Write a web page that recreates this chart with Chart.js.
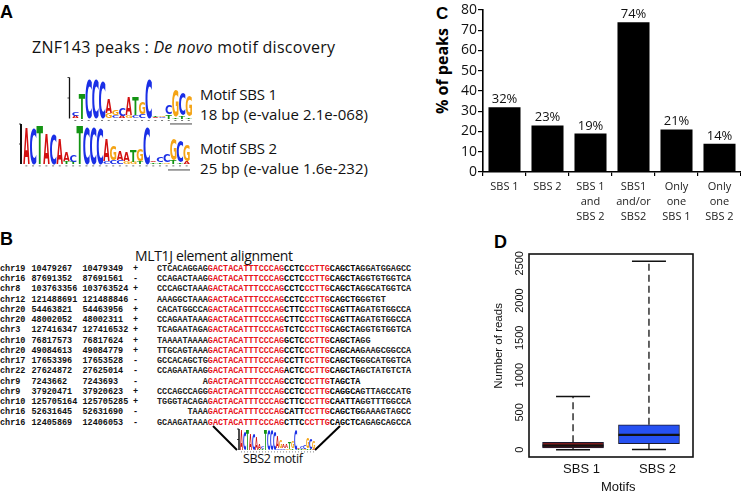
<!DOCTYPE html>
<html><head><meta charset="utf-8">
<script src="https://cdn.jsdelivr.net/npm/chart.js@4.4.1/dist/chart.umd.min.js"></script>
<style>
html,body{margin:0;padding:0;background:#fff;}
#page{position:relative;width:741px;height:495px;overflow:hidden;background:#fff;}
#art{position:absolute;left:0;top:0;}
#logos{position:absolute;left:0;top:0;}
#chartC{position:absolute;left:436px;top:0;}
#chartD{position:absolute;left:480px;top:232px;}
svg text{white-space:pre;}
</style></head>
<body><div id="page">
<svg id="art" width="741" height="495" xmlns="http://www.w3.org/2000/svg"></svg>
<canvas id="logos" width="741" height="495"></canvas>
<canvas id="chartC" width="305" height="232"></canvas>
<canvas id="chartD" width="261" height="263"></canvas>
</div>
<script>
// ---------- Panel C data ----------
const categoriesC = [['SBS 1'], ['SBS 2'], ['SBS 1','and','SBS 2'], ['SBS1','and/or','SBS2'], ['Only','one','SBS 1'], ['Only','one','SBS 2']];
const peakPercent = [32, 23, 19, 74, 21, 14];
const yTicksC = [0, 10, 20, 30, 40, 50, 60, 70, 80];

// ---------- Panel D data ----------
const motifNames = ['SBS 1', 'SBS 2'];
const whiskerLow = [0, 2];
const quartile1 = [25, 80];
const medianReads = [55, 200];
const quartile3 = [100, 335];
const whiskerHigh = [713, 2527];
const yTicksD = [0, 500, 1000, 1500, 2000, 2500];

// ---------- Panel B alignment ----------
const alignChr = ['chr19','chr16','chr8','chr12','chr20','chr20','chr3','chr10','chr20','chr17','chr22','chr9','chr9','chr10','chr16','chr16'];
const alignStart = ['10479267','87691352','103763356','121488691','54463821','48002052','127416347','76817573','49084613','17653396','27624872','7243662','37920471','125705164','52631645','12405869'];
const alignEnd = ['10479349','87691561','103763524','121488846','54463956','48002311','127416532','76817624','49084779','17653528','27625014','7243693','37920623','125705285','52631690','12406053'];
const alignStrand = ['+','-','+','-','+','+','+','+','+','-','-','-','+','+','-','-'];
const alignFlank5 = ['CTCACAGGAG','CCAGACTAAG','CCCAGCTAAA','AAAGGCTAAA','CACATGGCCA','CCAGAATAAA','TCAGAATAGA','TAAAATAAAA','TTGCAGTAAA','GCCACAGCTG','CCAGAATAAG','         A','CCCAGCCAGG','TGGGTACAGA','      TAAA','GCAAGATAAA'];
const alignCore1 = 'GACTACATTTCCCAG';
const alignMid = ['CCTC','CCTC','CCTC','CCTC','CTTC','CTTC','TCTC','GCTC','CCTC','CCTT','ACTC','CCTC','CCTC','CTTC','CATT','CTTC'];
const alignCore2 = 'CCTTG';
const alignMid2 = ['CA','CA','CA','CA','CA','CA','CA','CA','CA','CA','CA','TA','CA','CA','CA','CA'];
const alignFlank3 = ['GCTAGGATGGAGCC','GCTAGGTGTGGTCA','GCTAGGCATGGTCA','GCTGGGTGT','GTTAGATGTGGCCA','GTTAGATGTGGCCA','GCTAGGTGTGGTCA','GCTAGG','GCAAGAAGCGGCCA','GCTGGGCATGGTCA','GCTAGCTATGTCTA','GCTA','GGCAGTTAGCCATG','ATTAGGTTTGGCCA','GCTGGAAAGTAGCC','GCTCAGAGCAGCCA'];

// ---------- Sequence logos (letter, fraction of 2 bits), bottom to top ----------
const logoSBS1 = [
 [['A',0.06],['C',0.1]], [['T',0.62]], [['C',0.95]], [['C',0.95]], [['C',0.93]],
 [['G',0.12],['A',0.35]], [['C',0.08],['G',0.12]], [['A',0.06],['C',0.2]], [['G',0.08],['A',0.45]],
 [['C',0.08],['T',0.45]], [['C',0.1],['G',0.3]], [['C',0.95]], [['A',0.04],['T',0.04]],
 [['C',0.04],['G',0.04]], [['T',0.1],['C',0.22]], [['T',0.05],['G',0.65]], [['T',0.08],['C',0.55]], [['T',0.05],['G',0.5]]
];
const logoSBS2 = [
 [['A',0.92]], [['C',0.92]], [['T',0.95]], [['A',0.75]], [['C',0.75]], [['A',0.62]],
 [['T',0.06],['A',0.25]], [['T',0.06],['C',0.16]], [['T',0.95]], [['C',0.95]], [['C',0.95]], [['C',0.92]],
 [['C',0.08],['A',0.55]], [['C',0.1],['G',0.38]], [['C',0.1],['A',0.22]], [['G',0.08],['A',0.22]],
 [['G',0.06],['T',0.3]], [['T',0.08],['G',0.3]], [['C',0.95]], [['T',0.04],['A',0.04]],
 [['T',0.05],['C',0.15]], [['G',0.05],['C',0.2]], [['T',0.1],['G',0.55]], [['T',0.05],['C',0.55]], [['A',0.06],['G',0.4]]
];
const logoColors = {A:'#d21010', C:'#1a2fe6', G:'#f4a416', T:'#139413'};

// ================= SVG text for panels A and B =================
const NS = 'http://www.w3.org/2000/svg';
const svg = document.getElementById('art');
function el(tag, attrs, text, parent){
  const e = document.createElementNS(NS, tag);
  for (const k in attrs) e.setAttribute(k, attrs[k]);
  if (text != null) e.textContent = text;
  (parent || svg).appendChild(e);
  return e;
}
function txt(x, y, s, o){
  const a = {x:x, y:y, 'font-family':o.family||'Open Sans', 'font-size':o.size, fill:o.fill||'#111'};
  if (o.weight) a['font-weight'] = o.weight;
  if (o.anchor) a['text-anchor'] = o.anchor;
  if (o.len) { a.textLength = o.len; a.lengthAdjust = 'spacing'; }
  if (o.transform) a.transform = o.transform;
  return el('text', a, s);
}

// ================= Logos drawn on a canvas, glyphs stretched to exact boxes =================
const lctx = document.getElementById('logos').getContext('2d');
function drawLetter(letter, x, yBottom, w, h){
  if (h < 0.3) return;
  lctx.save();
  lctx.font = 'bold 100px "DejaVu Sans"';
  lctx.textAlign = 'left';
  lctx.textBaseline = 'alphabetic';
  const m = lctx.measureText(letter);
  const gw = m.actualBoundingBoxLeft + m.actualBoundingBoxRight;
  const gh = m.actualBoundingBoxAscent + m.actualBoundingBoxDescent;
  lctx.translate(x, yBottom);
  lctx.scale(w/gw, h/gh);
  lctx.fillStyle = logoColors[letter];
  lctx.fillText(letter, m.actualBoundingBoxLeft, -m.actualBoundingBoxDescent);
  lctx.restore();
}
function drawLogo(stacks, x0, colW, yBottom, fullH, axisX, axisW){
  lctx.save();
  lctx.strokeStyle = '#111';
  lctx.lineWidth = axisW;
  lctx.beginPath(); lctx.moveTo(axisX, yBottom-fullH); lctx.lineTo(axisX, yBottom); lctx.stroke();
  lctx.lineWidth = 0.8;
  lctx.beginPath();
  lctx.moveTo(axisX-2, yBottom-fullH); lctx.lineTo(axisX, yBottom-fullH);
  lctx.moveTo(axisX-2, yBottom-fullH/2); lctx.lineTo(axisX, yBottom-fullH/2);
  lctx.stroke();
  lctx.restore();
  stacks.forEach((stack, i) => {
    let yb = yBottom;
    const x = x0 + i*colW;
    stack.forEach(([letter, frac]) => {
      const h = frac*fullH;
      drawLetter(letter, x + colW*0.02, yb, colW*0.96, h - 0.3);
      yb -= h;
    });
    lctx.fillStyle = '#555';
    lctx.fillRect(x + colW*0.35, yBottom + 1.5, colW*0.3, 0.8);
  });
}

// Panel letters
txt(0, 18.3, 'A', {family:'Liberation Sans', size:18, weight:'bold', fill:'#000'});
txt(0, 245, 'B', {family:'Liberation Sans', size:18, weight:'bold', fill:'#000'});
txt(436, 19.3, 'C', {family:'Liberation Sans', size:17, weight:'bold', fill:'#000'});
txt(494, 248, 'D', {family:'Liberation Sans', size:18, weight:'bold', fill:'#000'});

// Panel A
const t = el('text',{x:32, y:53, 'font-family':'Open Sans', 'font-size':16, fill:'#111', textLength:303, lengthAdjust:'spacing'});
el('tspan',{}, 'ZNF143 peaks : ', t);
el('tspan',{'font-style':'italic'}, 'De novo', t);
el('tspan',{}, ' motif discovery', t);
txt(200, 100, 'Motif SBS 1', {size:15, len:77});
txt(200, 120, '18 bp (e-value 2.1e-068)', {size:15, len:168});
txt(200, 154, 'Motif SBS 2', {size:15, len:77});
txt(200, 174, '25 bp (e-value 1.6e-232)', {size:15, len:168});
drawLogo(logoSBS1, 72, 6.67, 118.5, 41, 69.5, 1.3);
drawLogo(logoSBS2, 23, 6.68, 164, 40, 21, 2);
lctx.fillStyle = '#333';
lctx.fillRect(170, 123.5, 22, 0.9);
lctx.fillRect(168, 169.5, 22, 0.9);

// Panel B
txt(214, 260.7, 'MLT1J element alignment', {size:14, anchor:'middle', len:158});
const CW = 5.08;
alignChr.forEach((c, i) => {
  const y = 270.8 + i*10.25;
  const mono = {family:'Liberation Mono', size:8.47, weight:'bold', fill:'#111'};
  txt(0, y, c, mono);
  txt(31.5, y, alignStart[i], mono);
  txt(82.5, y, alignEnd[i], mono);
  txt(133, y, alignStrand[i], mono);
  const f5 = alignFlank5[i];
  const lead = f5.length - f5.trimStart().length;
  const s = el('text',{x:(157 + lead*CW).toFixed(2), y:y, 'font-family':'Liberation Mono', 'font-size':8.47, 'font-weight':'bold', fill:'#111'});
  el('tspan',{fill:'#222'}, f5.trimStart(), s);
  el('tspan',{fill:'#e8141c'}, alignCore1, s);
  el('tspan',{fill:'#000'}, alignMid[i], s);
  el('tspan',{fill:'#e8141c'}, alignCore2, s);
  el('tspan',{fill:'#000'}, alignMid2[i], s);
  el('tspan',{fill:'#000'}, alignFlank3[i].slice(0,4), s);
  el('tspan',{fill:'#222'}, alignFlank3[i].slice(4), s);
});
el('line',{x1:213, y1:426, x2:237, y2:450, stroke:'#000','stroke-width':2});
el('line',{x1:340, y1:426, x2:315, y2:450, stroke:'#000','stroke-width':2});
drawLogo(logoSBS2, 240, 3.0, 450, 21, 239, 1.5);
txt(273, 463, 'SBS2 motif', {size:12.5, anchor:'middle', len:60});

// Panel C y title
txt(0, 0, '% of peaks', {size:16, weight:'bold', anchor:'middle', fill:'#000', transform:'translate(448,71) rotate(-90)'});

// ================= Panel C chart =================
const barLabels = {
  id:'barLabels',
  afterDatasetsDraw(chart){
    const ctx = chart.ctx;
    const meta = chart.getDatasetMeta(0);
    ctx.save();
    ctx.font = '13px "Open Sans"';
    ctx.fillStyle = '#111';
    ctx.textAlign = 'center';
    ctx.textBaseline = 'alphabetic';
    meta.data.forEach((bar, i) => ctx.fillText(peakPercent[i] + '%', bar.x, bar.y - 4));
    ctx.restore();
  }
};
new Chart(document.getElementById('chartC'), {
  type:'bar',
  data:{ labels: categoriesC, datasets:[{ data: peakPercent, backgroundColor:'#000', borderWidth:0, categoryPercentage:1, barPercentage:0.745 }]},
  options:{
    responsive:false, animation:false, devicePixelRatio:1,
    layout:{padding:{top:10, right:0, left:0, bottom:0}},
    plugins:{legend:{display:false}, tooltip:{enabled:false}},
    scales:{
      x:{
        grid:{display:true, drawOnChartArea:false, drawTicks:true, tickLength:4, color:'#000', lineWidth:1.2, offset:true},
        border:{display:true, color:'#000', width:1.6},
        ticks:{color:'#222', font:{family:'Open Sans', size:11, lineHeight:1.36}, padding:3.5, maxRotation:0, autoSkip:false},
        afterFit(s){ s.height = 60; }
      },
      y:{
        min:0, max:80,
        afterBuildTicks(s){ s.ticks = yTicksC.map(v => ({value:v})); },
        grid:{display:true, drawOnChartArea:false, drawTicks:true, tickLength:5, color:'#000', lineWidth:1.2},
        border:{display:true, color:'#000', width:1.6},
        ticks:{color:'#111', font:{family:'Open Sans', size:14}, padding:1},
        afterFit(s){ s.width = 47; }
      }
    }
  },
  plugins:[barLabels]
});

// ================= Panel D chart =================
const boxParts = {
  id:'boxParts',
  afterDatasetsDraw(chart){
    const {ctx, chartArea:a} = chart;
    const xs = chart.scales.x, ys = chart.scales.y;
    const line = (x1,y1,x2,y2) => { ctx.beginPath(); ctx.moveTo(x1,y1); ctx.lineTo(x2,y2); ctx.stroke(); };
    ctx.save();
    ctx.strokeStyle = '#111';
    motifNames.forEach((n, i) => {
      const cx = xs.getPixelForValue(i+1);
      ctx.lineWidth = 1.3; ctx.setLineDash([7,4]);
      line(cx, ys.getPixelForValue(quartile3[i]), cx, ys.getPixelForValue(whiskerHigh[i]));
      line(cx, ys.getPixelForValue(quartile1[i]), cx, ys.getPixelForValue(whiskerLow[i]));
      ctx.setLineDash([]); ctx.lineWidth = 1.6;
      line(cx-17, ys.getPixelForValue(whiskerHigh[i]), cx+17, ys.getPixelForValue(whiskerHigh[i]));
      line(cx-17, ys.getPixelForValue(whiskerLow[i]), cx+17, ys.getPixelForValue(whiskerLow[i]));
      ctx.lineWidth = 2.2;
      line(cx-30.5, ys.getPixelForValue(medianReads[i]), cx+30.5, ys.getPixelForValue(medianReads[i]));
    });
    ctx.lineWidth = 1.6;
    ctx.strokeRect(a.left, a.top, a.right-a.left, a.bottom-a.top);
    ctx.font = '11px "Liberation Sans"';
    ctx.fillStyle = '#111';
    ctx.textAlign = 'center';
    ctx.textBaseline = 'middle';
    ys.ticks.forEach(tk => {
      const py = ys.getPixelForValue(tk.value);
      ctx.save(); ctx.translate(a.left - 9, py); ctx.rotate(-Math.PI/2);
      ctx.fillText(String(tk.value), 0, 0); ctx.restore();
    });
    ctx.restore();
  }
};
new Chart(document.getElementById('chartD'), {
  type:'bar',
  data:{ datasets:[{
    data: motifNames.map((n, i) => ({x:i+1, y:[quartile1[i], quartile3[i]]})),
    backgroundColor:['#7a1c1c','#2651f2'], borderColor:'#1a1a30', borderWidth:1, borderSkipped:false, barThickness:61
  }]},
  options:{
    responsive:false, animation:false, devicePixelRatio:1,
    layout:{padding:{top:22, right:48, left:0, bottom:0}},
    plugins:{legend:{display:false}, tooltip:{enabled:false}},
    scales:{
      x:{
        type:'linear', min:0.42, max:2.58, offset:false,
        afterBuildTicks(s){ s.ticks = motifNames.map((n, i) => ({value:i+1})); },
        grid:{display:false, drawTicks:false}, border:{display:false},
        ticks:{callback:(v) => motifNames[Math.round(v)-1], color:'#111', font:{family:'Liberation Sans', size:13}, padding:5, labelOffset:8.5, maxRotation:0, autoSkip:false},
        title:{display:true, text:'    Motifs', color:'#111', font:{family:'Liberation Sans', size:13}, padding:{top:0, bottom:0}},
        afterFit(s){ s.height = 38; }
      },
      y:{
        min:-98, max:2625,
        afterBuildTicks(s){ s.ticks = yTicksD.map(v => ({value:v})); },
        grid:{display:false, drawTicks:false}, border:{display:false},
        ticks:{display:false},
        title:{display:true, text:'      Number of reads', color:'#111', font:{family:'Liberation Sans', size:11.5}, padding:{top:12, bottom:0}},
        afterFit(s){ s.width = 49; }
      }
    }
  },
  plugins:[boxParts]
});
</script>
</body></html>
